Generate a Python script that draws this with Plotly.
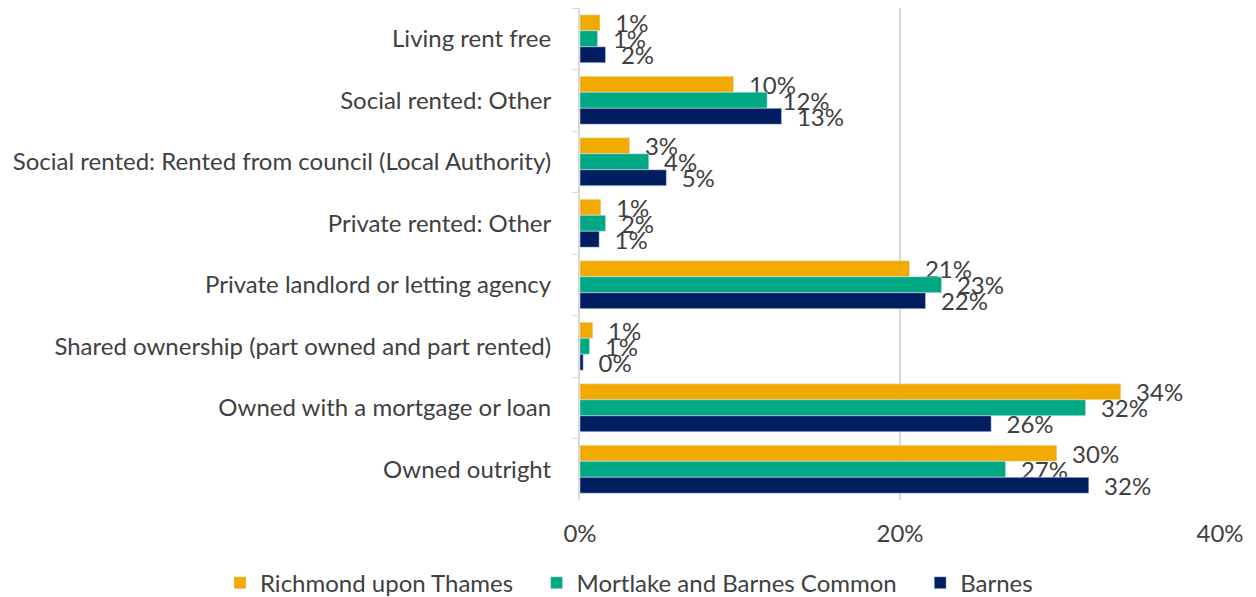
import plotly.graph_objects as go

categories = [
    "Living rent free",
    "Social rented: Other",
    "Social rented: Rented from council (Local Authority)",
    "Private rented: Other",
    "Private landlord or letting agency",
    "Shared ownership (part owned and part rented)",
    "Owned with a mortgage or loan",
    "Owned outright",
]
richmond = [1.25, 9.6, 3.1, 1.3, 20.6, 0.8, 33.8, 29.8]
mortlake = [1.1, 11.7, 4.3, 1.6, 22.6, 0.6, 31.6, 26.6]
barnes = [1.6, 12.6, 5.4, 1.2, 21.6, 0.2, 25.7, 31.8]

PAD = "\u00a0" * 3  # extra legend spacing between items
series = [
    ("Richmond upon Thames" + PAD, richmond, "rgb(242,169,0)"),
    ("Mortlake and Barnes Common" + PAD, mortlake, "rgb(0,168,132)"),
    ("Barnes", barnes, "rgb(0,30,96)"),
]

FONT = "Lato, 'Open Sans', sans-serif"
GRAY = "#404040"
FS = 24

fig = go.Figure()
for name, vals, color in series:
    fig.add_trace(go.Bar(
        y=categories, x=vals, name=name, orientation="h",
        marker=dict(color=color),
        texttemplate="  %{x:.0f}%", textposition="outside",
        constraintext="none", cliponaxis=False,
        textfont=dict(family=FONT, size=FS, color=GRAY),
        hoverinfo="skip",
    ))

# page body has an 8px margin, so the figure is drawn offset by (8, 8)
fig.update_layout(
    barmode="group", bargap=0.22, bargroupgap=0,
    width=1248, height=589,
    margin=dict(l=572, r=36, t=0, b=97, autoexpand=False),
    plot_bgcolor="white", paper_bgcolor="white",
    font=dict(family=FONT, size=FS, color=GRAY),
    showlegend=True,
    legend=dict(orientation="h", xref="paper", yref="paper",
                x=-0.5625, xanchor="left", y=-0.169, yanchor="middle",
                font=dict(family=FONT, size=FS, color=GRAY),
                itemwidth=30, tracegroupgap=0),
)
fig.update_xaxes(range=[0, 40], tickvals=[0, 20, 40], ticktext=["0%", "20%", "40%"],
                 showgrid=True, gridcolor="#d9d9d9", gridwidth=1.5,
                 zeroline=False, showline=False, automargin=False,
                 tickfont=dict(family=FONT, size=FS, color=GRAY), ticklabelstandoff=17)
fig.update_yaxes(autorange="reversed", showline=True, linecolor="#d9d9d9", linewidth=2,
                 ticks="outside", tickson="boundaries", ticklen=6, tickcolor="#d9d9d9",
                 automargin=False,
                 tickfont=dict(family=FONT, size=FS, color=GRAY), ticklabelstandoff=22)

fig.write_html("out.html")
